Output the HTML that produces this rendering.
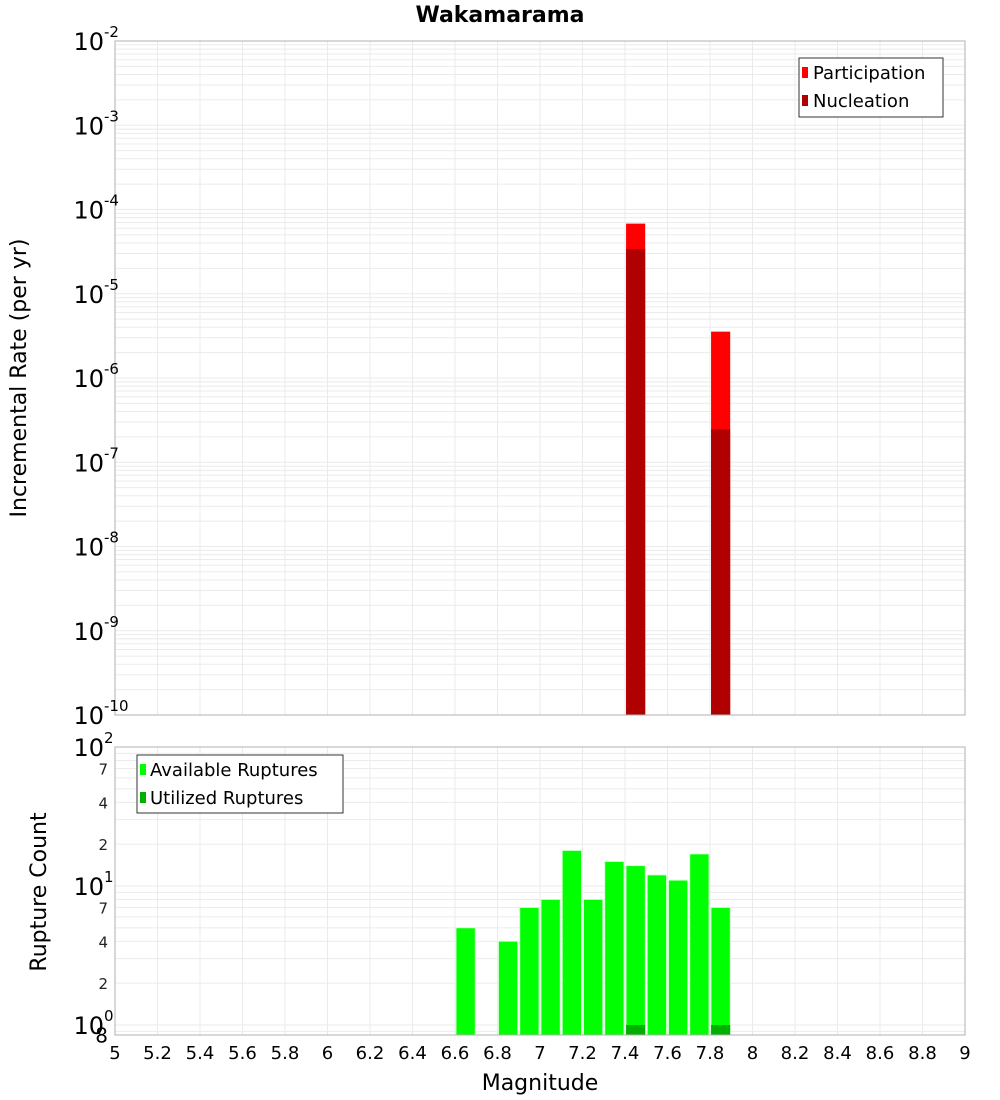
<!DOCTYPE html>
<html><head><meta charset="utf-8"><style>
body{margin:0;background:#fff;}
svg{display:block;font-family:"DejaVu Sans","Liberation Sans",sans-serif;}
</style></head><body>
<svg id="chart" width="1000" height="1100" viewBox="0 0 1000 1100" xmlns="http://www.w3.org/2000/svg">
<text x="500" y="22" text-anchor="middle" font-size="22" font-weight="bold">Wakamarama</text>
<text transform="translate(26,378) rotate(-90)" text-anchor="middle" font-size="22">Incremental Rate (per yr)</text>
<text transform="translate(46,892) rotate(-90)" text-anchor="middle" font-size="22">Rupture Count</text>
<text x="540" y="1090" text-anchor="middle" font-size="22">Magnitude</text>
<g id="topPlot"></g>
<g id="botPlot"></g>
<g id="xTickGroup"></g>
</svg>
<script>
const topMags = [7.45, 7.85];
const participationRates = [6.8e-5, 3.55e-6];
const nucleationRates = [3.4e-5, 2.45e-7];
const botMags = [6.65, 6.85, 6.95, 7.05, 7.15, 7.25, 7.35, 7.45, 7.55, 7.65, 7.75, 7.85];
const availableCounts = [5, 4, 7, 8, 18, 8, 15, 14, 12, 11, 17, 7];
const utilizedMags = [7.45, 7.85];
const utilizedCounts = [1, 1];
const xTicks = [5,5.2,5.4,5.6,5.8,6,6.2,6.4,6.6,6.8,7,7.2,7.4,7.6,7.8,8,8.2,8.4,8.6,8.8,9];
const topExps = [-2,-3,-4,-5,-6,-7,-8,-9,-10];

{
const NS="http://www.w3.org/2000/svg";
const L=115,R=965;
const X=m=>L+(m-5)/4*(R-L);
const T0=41,T1=715, yTop=v=>T0+(-2-Math.log10(v))/8*(T1-T0);
const B0=747,DEC=139, yBot=v=>B0+(2-Math.log10(v))*DEC, B1=1035;
function el(p,tag,a,txt){const e=document.createElementNS(NS,tag);for(const k in a)e.setAttribute(k,a[k]);if(txt!==undefined)e.textContent=txt;p.appendChild(e);return e;}
const topG=document.getElementById('topPlot'),botG=document.getElementById('botPlot'),xtG=document.getElementById('xTickGroup');
const bw=X(5.09)-X(5);

let g=el(topG,'g',{});


for(let e=-10;e<-2;e++)for(let k=1;k<10;k++){const y=yTop(k*Math.pow(10,e));if(y>=T0&&y<=T1)el(g,'line',{x1:L,x2:R,y1:y,y2:y,stroke:'#ebebeb','stroke-width':1});}
xTicks.forEach(t=>el(g,'line',{x1:X(t),x2:X(t),y1:T0,y2:T1,stroke:'#ebebeb'}));
topMags.forEach((m,i)=>{
 const p=el(topG,'rect',{x:X(m)-bw/2,y:yTop(participationRates[i]),width:bw,height:T1-yTop(participationRates[i]),fill:'#ff0000'});
 
 
 const n=el(topG,'rect',{x:X(m)-bw/2,y:yTop(nucleationRates[i]),width:bw,height:T1-yTop(nucleationRates[i]),fill:'#b00000'});
 
 
});
el(topG,'rect',{x:L,y:T0,width:R-L,height:T1-T0,fill:'none',stroke:'#b0b0b0'});
topExps.forEach(e=>{const y=yTop(Math.pow(10,e));
 const t=el(topG,'text',{x:104,y:y+9,'text-anchor':'end','font-size':24},'10');
 
 
 el(topG,'text',{x:104,y:y-4,'font-size':15},String(e));
});
let lg=el(topG,'g',{});


el(lg,'rect',{x:799,y:58,width:144,height:59,fill:'#fff',stroke:'#333'});
el(lg,'rect',{x:802,y:67,width:6,height:11,fill:'#ff0000'});
el(lg,'text',{x:813,y:79,'font-size':18},'Participation');
el(lg,'rect',{x:802,y:95,width:6,height:11,fill:'#b00000'});
el(lg,'text',{x:813,y:107,'font-size':18},'Nucleation');

g=el(botG,'g',{});


for(let e=-1;e<2;e++)for(let k=1;k<10;k++){const y=yBot(k*Math.pow(10,e));if(y>=B0&&y<=B1)el(g,'line',{x1:L,x2:R,y1:y,y2:y,stroke:'#ebebeb'});}
xTicks.forEach(t=>el(g,'line',{x1:X(t),x2:X(t),y1:B0,y2:B1,stroke:'#ebebeb'}));
botMags.forEach((m,i)=>{const y=yBot(availableCounts[i]);
 const r=el(botG,'rect',{x:X(m)-bw/2,y:y,width:bw,height:B1-y,fill:'#00ff00',stroke:'#c8ffc8','stroke-width':0.8});
 
 
});
utilizedMags.forEach((m,i)=>{const y=yBot(utilizedCounts[i]);
 const r=el(botG,'rect',{x:X(m)-bw/2,y:y,width:bw,height:B1-y,fill:'#00b000'});
 
 
});
el(botG,'rect',{x:L,y:B0,width:R-L,height:B1-B0,fill:'none',stroke:'#b0b0b0'});
[2,1,0].forEach(e=>{const y=yBot(Math.pow(10,e));
 const t=el(botG,'text',{x:104,y:y+9,'text-anchor':'end','font-size':24},'10');
 
 
 el(botG,'text',{x:104,y:y-4,'font-size':15},String(e));
});
[70,40,20,7,4,2].forEach(v=>{const y=yBot(v);
 const t=el(botG,'text',{x:108,y:y+6,'text-anchor':'end','font-size':15,fill:'#222'},String(v).charAt(0));
 
 
});
el(botG,'text',{x:108,y:yBot(0.8)+4,'text-anchor':'end','font-size':20},'8');
lg=el(botG,'g',{});


el(lg,'rect',{x:137,y:755,width:206,height:58,fill:'#fff',stroke:'#333'});
el(lg,'rect',{x:140,y:764,width:6,height:11,fill:'#00ff00'});
el(lg,'text',{x:150,y:776,'font-size':18},'Available Ruptures');
el(lg,'rect',{x:140,y:792,width:6,height:11,fill:'#00b000'});
el(lg,'text',{x:150,y:804,'font-size':18},'Utilized Ruptures');

xTicks.forEach(t=>{const e=el(xtG,'text',{x:X(t),y:1059,'text-anchor':'middle','font-size':18},String(t));
 
 
});
}
</script>
</body></html>
